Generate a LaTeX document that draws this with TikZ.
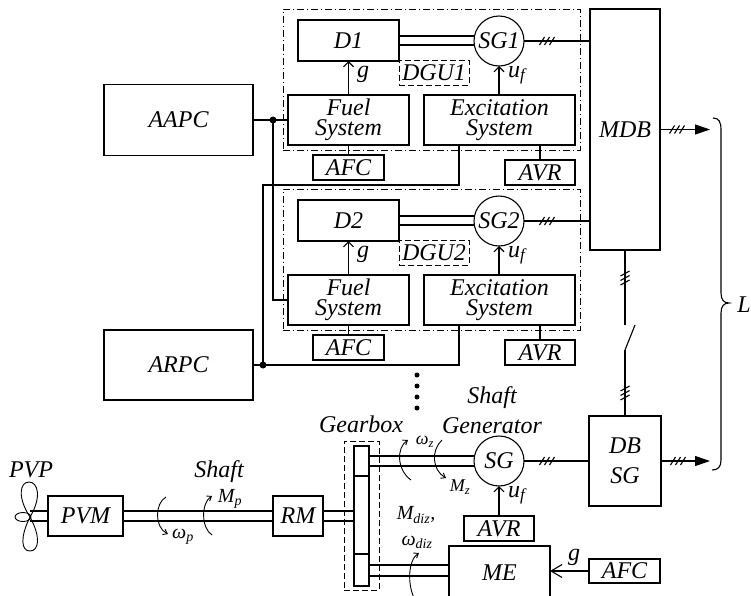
\documentclass[tikz,border=0pt]{standalone}
\usepackage{fontspec}
\setmainfont{Liberation Serif}
\usetikzlibrary{arrows.meta,calc}
\begin{document}
\begin{tikzpicture}[x=1pt,y=-1pt,line width=1.1pt,
  every node/.style={inner sep=0pt,outer sep=0pt,font=\fontsize{24}{19.5}\selectfont\itshape},
  blk/.style={draw,align=center},
  gen/.style={draw,circle,minimum size=50pt},
  dgubox/.style={draw,line width=0.9pt,dash pattern=on 7pt off 3pt on 1pt off 3pt},
  dbox/.style={draw,line width=0.9pt,dash pattern=on 6pt off 3pt},
  ctl/.style={-{Straight Barb[length=5pt,width=10pt]}},
  rot/.style={line width=0.9pt,-{Straight Barb[length=4pt,width=6pt]}},
  outarr/.style={-{Triangle[length=15pt,width=10pt]}},
  small/.style={font=\fontsize{20}{20}\selectfont\itshape},
  tiny/.style={font=\fontsize{18}{18}\selectfont\itshape},
  wide/.style={font=\fontsize{24}{30}\selectfont\itshape},
  htick/.pic={\foreach \d in {-5,0,5} \draw[line width=1.1pt] (\d-2.5,4) -- ++(5,-8);},
  vtick/.pic={\foreach \d in {-4.5,0,4.5} \draw[line width=1.1pt] (-4.5,\d+2.5) -- ++(9,-5);}
]
\useasboundingbox (0,0) rectangle (751,595);

% main distribution board
\node[blk,minimum width=70pt,minimum height=241pt] (mdb) at (625,129.5) {MDB};

% diesel generator units
\foreach \i/\o in {1/0,2/180} {
  \node[dgubox,minimum width=297pt,minimum height=141pt] (dgu\i) at (431.5,79.5+\o) {};
  \node[blk,minimum width=101pt,minimum height=41pt] (d\i) at (348.5,40.5+\o) {D\i};
  \node[gen] (sg\i) at (499,41+\o) {SG\i};
  \node[dbox,minimum width=70pt,minimum height=25pt] (lab\i) at (434,72.5+\o) {DGU\i};
  \node[blk,minimum width=121pt,minimum height=50pt] (fuel\i) at (348.5,120+\o) {Fuel\\System};
  \node[blk,minimum width=151pt,minimum height=50pt] (exc\i) at (499.5,120+\o) {Excitation\\System};
  \node[blk,minimum width=71pt,minimum height=25pt] (afc\i) at (348.5,167.5+\o) {AFC};
  \node[blk,minimum width=70pt,minimum height=25pt] (avr\i) at (540,172.5+\o) {AVR};
  \node[anchor=base west] (g\i) at (357,77+\o) {g};
  \node[anchor=base west] (uf\i) at (508,77+\o) {u\textsubscript{f}};
  \draw ($(d\i.east)+(0,-4.5)$) coordinate (a) -- (a -| sg\i.west);
  \draw ($(d\i.east)+(0,4.5)$) coordinate (a) -- (a -| sg\i.west);
  \draw[ctl] (fuel\i.north) -- (d\i.south);
  \draw[ctl] (exc\i.north -| sg\i.south) -- (sg\i.south);
  \draw (fuel\i.south) -- (afc\i.north);
  \draw (avr\i.north) -- (avr\i.north |- exc\i.south);
  \draw (sg\i.east) -- (sg\i.east -| mdb.west);
  \pic at (547,41+\o) {htick};
}

% power plant control
\node[blk,minimum width=149pt,minimum height=71pt] (aapc) at (178.5,120) {AAPC};
\node[blk,minimum width=149pt,minimum height=70pt] (arpc) at (178.5,365) {ARPC};
\coordinate (j1) at (273,120);
\coordinate (j2) at (263,365);
\draw (aapc.east) -- (fuel1.west);
\draw (j1) |- (fuel2.west);
\draw ($(exc1.south west)+(35,0)$) |- ($(j2)+(0,-180)$) -- (j2);
\draw (arpc.east) -- (j2) -| ($(exc2.south west)+(35,0)$);
\fill (j1) circle (3.5pt);
\fill (j2) circle (3.5pt);

% ellipsis
\foreach \yy in {375,386,397,408} \fill (417,\yy) circle (2.5pt);

% shaft generator part
\node[gen] (sg) at (499,461) {SG};
\node[blk,minimum width=70pt,minimum height=25pt] (avr3) at (499,528.5) {AVR};
\node[blk,minimum width=101pt,minimum height=54pt] (me) at (499.5,573) {ME};
\node[blk,minimum width=71pt,minimum height=24pt] (afc3) at (624.5,571) {AFC};
\node[blk,minimum width=72pt,minimum height=90pt,wide] (dbsg) at (625,461) {DB\\SG};
\node[blk,minimum width=75pt,minimum height=40pt] (pvm) at (85.5,516) {PVM};
\node[blk,minimum width=50pt,minimum height=40pt] (rm) at (298,516) {RM};
\node[draw,minimum width=15pt,minimum height=140pt] (gear) at (361.5,516) {};
\node[dbox,minimum width=35pt,minimum height=149pt] (gbx) at (361.5,515.5) {};
\draw ($(gear.north west)+(0,30)$) -- ($(gear.north east)+(0,30)$);
\draw ($(gear.south west)+(0,-32)$) -- ($(gear.south east)+(0,-32)$);

% propeller
\coordinate (pc) at (30,517);
\draw[line width=0.9pt] (pc) .. controls (17,497) and (20,482) .. (29,482) .. controls (38,482) and (42,497) .. (pc);
\draw[line width=0.9pt] (pc) .. controls (20,537) and (21,551) .. (30,551) .. controls (39,551) and (41,537) .. (pc);
\draw[line width=0.9pt] (23,517) ellipse [x radius=8pt, y radius=4.5pt];

% shafts
\foreach \s in {-5,5} {
  \draw ($(pvm.west)+(0,\s)$) coordinate (a) -- (a -| pc);
  \draw ($(pvm.east)+(0,\s)$) coordinate (a) -- (a -| rm.west);
  \draw ($(rm.east)+(0,\s)$) coordinate (a) -- (a -| gear.west);
  \draw ($(sg.center)+(-24,\s)$) coordinate (a) -- (a -| gear.east);
}
\draw ($(me.north west)+(0,19)$) coordinate (a) -- (a -| gear.east);
\draw ($(me.north west)+(0,30)$) coordinate (a) -- (a -| gear.east);

% controls and power lines
\draw[ctl] (avr3.north) -- (sg.south);
\draw[-{Straight Barb[length=11pt,width=13pt]}] (afc3.west) -- (afc3.west -| me.east);
\node[anchor=base west] (g3) at (568,560) {g};
\node[anchor=base west] (uf3) at (508,497) {u\textsubscript{f}};
\draw (sg.east) -- (dbsg.west);
\pic at (547,461) {htick};
\coordinate (o1) at (710,129.5);
\draw[outarr] (mdb.east) -- (o1);
\pic at (677,129.5) {htick};
\draw[outarr] (dbsg.east) -- (dbsg.east -| o1);
\pic at (678,461) {htick};
\draw (mdb.south) -- ++(0,75) coordinate (sw1);
\coordinate (sw2) at ($(sw1)+(0,25)$);
\draw (sw2) -- ++(10,-25);
\draw (sw2) -- (dbsg.north);
\pic at (625,278) {vtick};
\pic at (625,393) {vtick};

% load brace
\draw (713,118) .. controls (719,118) and (721,122) .. (721,130) -- (721,293) .. controls (721,300) and (724,303) .. (729,303) .. controls (724,303) and (721,306) .. (721,313) -- (721,460) .. controls (721,467) and (718,470) .. (712,470);
\node (load) at (744,305) {L};

% rotation arrows
\draw[rot] (166,497) .. controls (155,503) and (154,527) .. (168,534);
\draw[rot] (212,535) .. controls (201,528) and (201,503) .. (212,496);
\draw[rot] (411,480) .. controls (397,470) and (396,448) .. (408,440);
\draw[rot] (442,440) .. controls (431,450) and (432,470) .. (446,478);
\draw[rot] (415,600) .. controls (407,585) and (408,560) .. (419,553);

% labels
\node (pvp) at (31,470) {PVP};
\node (shaftlab) at (219,472) {Shaft};
\node (gbl) at (361,424) {Gearbox};
\node[align=center,wide] (sgl) at (492,410) {Shaft\\Generator};
\node[small] (wp) at (183,537) {ω\textsubscript{p}};
\node[small] (mp) at (230,499) {M\textsubscript{p}};
\node[tiny] (wz) at (425,442) {ω\textsubscript{z}};
\node[tiny] (mz) at (460,487) {M\textsubscript{z}};
\node[small] (mdiz) at (416,515) {M\textsubscript{diz},};
\node[small] (wdiz) at (417,542) {ω\textsubscript{diz}};
\end{tikzpicture}
\end{document}
